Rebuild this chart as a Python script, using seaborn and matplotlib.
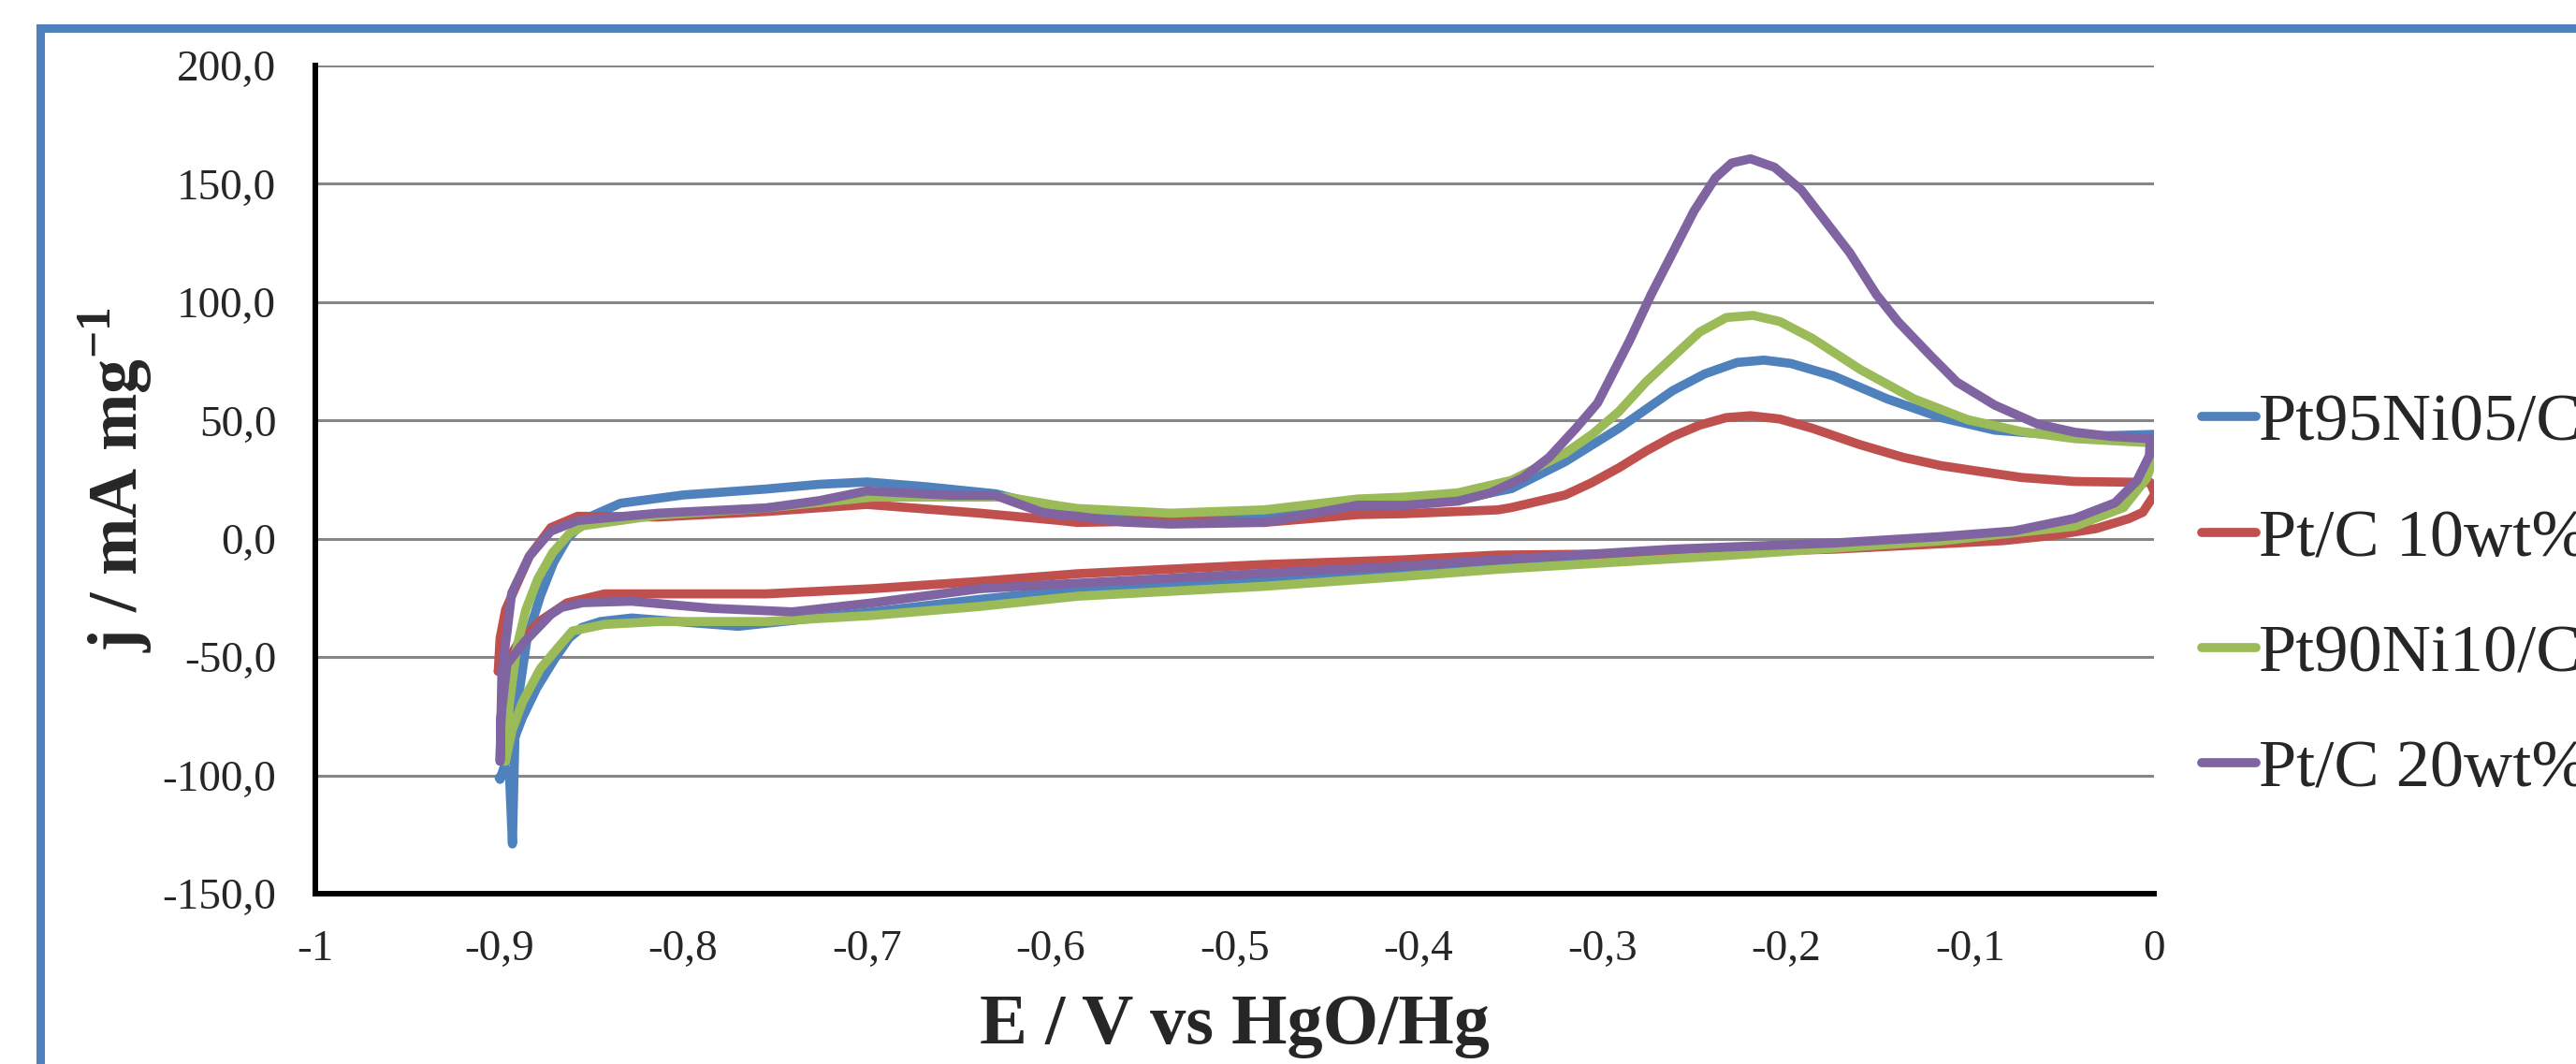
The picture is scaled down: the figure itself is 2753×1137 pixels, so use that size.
import pandas as pd
import seaborn as sns
import matplotlib.pyplot as plt
from matplotlib.lines import Line2D
from matplotlib.patches import Rectangle

# cyclic voltammograms (anodic sweep, then back)
blue_E = [-0.900, -0.8945, -0.8928, -0.8912, -0.8848, -0.8775, -0.8704, -0.863, -0.8515, -0.834,
          -0.800, -0.755, -0.726, -0.700, -0.668, -0.630, -0.604, -0.586, -0.535, -0.484,
          -0.433, -0.408, -0.379, -0.3494, -0.3202, -0.291, -0.2618, -0.2443, -0.2268, -0.2122,
          -0.1976, -0.1743, -0.1451, -0.1159, -0.0867, -0.043, 0.0,
          -0.0025, -0.009, -0.021, -0.043, -0.076, -0.116, -0.174, -0.262, -0.357, -0.408,
          -0.484, -0.586, -0.6385, -0.697, -0.770, -0.828, -0.845, -0.855, -0.862, -0.870,
          -0.8795, -0.8873, -0.8955, -0.8995]
blue_j = [-101, -98, -129, -76, -42, -24, -10, 0, 9, 15,
          18.5, 21, 23, 24, 22, 19, 14, 11.5, 8.9, 9.5,
          13.5, 14.5, 16.5, 21.2, 32.6, 46.7, 62.6, 69.7, 74.5, 75.5,
          74.1, 68.8, 59.1, 51.2, 45.9, 43.2, 44.1,
          35, 24.5, 15, 8.4, 3, 0.5, -2.2, -5, -10.9, -13.3,
          -17.5, -21.4, -25.6, -30.9, -37, -33.5, -35, -37.5, -42, -51,
          -63, -75.5, -92, -101.7]

red_E = [-0.9005, -0.8995, -0.8965, -0.8923, -0.8836, -0.8719, -0.8573, -0.8135, -0.755, -0.700,
         -0.6385, -0.595, -0.5857, -0.535, -0.484, -0.433, -0.4077, -0.357, -0.3494, -0.3202,
         -0.3056, -0.291, -0.2764, -0.2618, -0.2472, -0.2326, -0.2195, -0.2035, -0.1859, -0.1597,
         -0.1364, -0.1159, -0.0926, -0.0722, -0.043, -0.0021,
         0.0005, -0.0061, -0.0137, -0.0315, -0.056, -0.082, -0.174, -0.262, -0.357, -0.408,
         -0.484, -0.5857, -0.6385, -0.697, -0.755, -0.8135, -0.8427, -0.8631, -0.8777, -0.8894,
         -0.8967, -0.9005]
red_j = [-56, -42, -30, -22.6, -7.4, 4.7, 9.5, 9.2, 11.5, 14.5,
         10.8, 7.7, 6.9, 7.6, 6.9, 10.2, 10.6, 12.2, 13.2, 18.5,
         23.8, 30.0, 37.0, 43.2, 48.0, 51.2, 52.0, 50.6, 46.7, 39.7,
         34.4, 30.9, 28.2, 25.9, 24.2, 23.8,
         19, 11.2, 8.5, 4.3, 1.3, -0.8, -4.4, -6.2, -6.9, -8.9,
         -10.9, -14.8, -18.0, -21.1, -23.3, -23.3, -23.3, -27.1, -34.7, -43.8,
         -52.9, -56]

green_E = [-0.8966, -0.8945, -0.8907, -0.8855, -0.879, -0.871, -0.862, -0.8544, -0.8135, -0.755,
           -0.726, -0.697, -0.624, -0.5947, -0.5857, -0.535, -0.484, -0.433, -0.4077, -0.3786,
           -0.3494, -0.3202, -0.3056, -0.291, -0.2764, -0.2618, -0.2472, -0.2326, -0.2181, -0.2035,
           -0.1859, -0.1597, -0.1305, -0.1013, -0.0722, -0.043, -0.0021,
           -0.001, -0.004, -0.0166, -0.043, -0.1159, -0.2328, -0.357, -0.408, -0.484, -0.5857,
           -0.6385, -0.697, -0.7552, -0.8135, -0.8427, -0.8602, -0.868, -0.8777, -0.8873, -0.893,
           -0.8966]
green_j = [-94, -70, -47, -30, -17, -6, 2, 5.5, 10.0, 13.0,
           15.3, 17.6, 17.6, 13.8, 12.8, 10.8, 12.2, 16.8, 17.6, 19.4,
           24.7, 36.2, 44.1, 53.8, 66.2, 76.8, 87.3, 93.5, 94.4, 91.8,
           84.7, 71.5, 59.1, 50.3, 45.3, 42.3, 40.6,
           32, 25.6, 13.2, 5.3, -0.9, -7.1, -12.9, -15.9, -20.1, -24.3,
           -28.6, -32.4, -35.0, -35.0, -36.2, -39, -46, -55, -69, -81,
           -94]

purple_E = [-0.8995, -0.899, -0.8985, -0.8955, -0.8932, -0.8836, -0.8719, -0.8573, -0.8135, -0.755,
            -0.726, -0.700, -0.653, -0.630, -0.6035, -0.5857, -0.560, -0.535, -0.484, -0.433,
            -0.4077, -0.3786, -0.361, -0.3435, -0.329, -0.3144, -0.3027, -0.2968, -0.2852, -0.2735,
            -0.2618, -0.2502, -0.2385, -0.2297, -0.2195, -0.2064, -0.1918, -0.183, -0.1655, -0.151,
            -0.1393, -0.1218, -0.1072, -0.0867, -0.0634, -0.043, -0.0226, -0.0021,
            -0.0025, -0.0093, -0.0212, -0.0432, -0.0762, -0.116, -0.174, -0.262, -0.357, -0.408,
            -0.484, -0.5857, -0.6385, -0.697, -0.7406, -0.7844, -0.8281, -0.8544, -0.866, -0.8719,
            -0.8865, -0.8958, -0.899, -0.8995]
purple_j = [-94, -75, -56, -38, -23, -7.4, 3.2, 7.7, 10.8, 13.0,
            16.1, 20.2, 18.3, 18.3, 10.8, 9.5, 7.0, 6.2, 6.9, 14.2,
            14.1, 15.9, 19.4, 25.6, 34.4, 46.7, 57.3, 66.2, 83.8, 103.2,
            120.9, 138.5, 152.6, 158.8, 160.6, 157.0, 147.4, 138.5, 120.9, 103.2,
            91.8, 77.6, 66.2, 56.5, 48.5, 45.0, 43.2, 42.3,
            35.1, 24.5, 15.2, 8.6, 3.3, 0.9, -1.8, -4.4, -8.9, -11.5,
            -14.6, -18.8, -21.1, -27.1, -30.9, -29.4, -26.4, -27, -29, -32,
            -43.8, -53, -75, -94]

series_names = ['Pt95Ni05/C', 'Pt/C 10wt%', 'Pt90Ni10/C', 'Pt/C 20wt%']
series_colors = ['#4F81BD', '#C0504D', '#9BBB59', '#8064A2']
series_E = [blue_E, red_E, green_E, purple_E]
series_j = [blue_j, red_j, green_j, purple_j]

x_ticks = [-1, -0.9, -0.8, -0.7, -0.6, -0.5, -0.4, -0.3, -0.2, -0.1, 0]
y_ticks = [-150, -100, -50, 0, 50, 100, 150, 200]

frames = []
for name, E, j in zip(series_names, series_E, series_j):
    frames.append(pd.DataFrame({'E': E, 'j': j, 'catalyst': name}))
df = pd.concat(frames, ignore_index=True)

sns.set_style('white')
plt.rcParams['font.family'] = ['Liberation Serif', 'DejaVu Serif']
plt.rcParams['mathtext.fontset'] = 'custom'
plt.rcParams['mathtext.rm'] = 'Liberation Serif'
plt.rcParams['mathtext.bf'] = 'Liberation Serif:bold'

fig = plt.figure(figsize=(27.53, 11.37), dpi=100)
ax = fig.add_axes([0.1224, 0.1601, 0.7138, 0.7783])

palette = dict(zip(series_names, series_colors))
sns.lineplot(data=df, x='E', y='j', hue='catalyst', hue_order=series_names, palette=palette,
             sort=False, estimator=None, lw=7, legend=False, ax=ax,
             solid_capstyle='round', solid_joinstyle='round')

ax.set_xlim(-1, 0)
ax.set_ylim(-150, 200)
ax.set_xticks(x_ticks)
ax.set_xticklabels([('%g' % v).replace('.', ',') for v in x_ticks])
ax.set_yticks(y_ticks)
ax.set_yticklabels([('%.1f' % v).replace('.', ',') for v in y_ticks])
ax.tick_params(axis='both', length=0, labelsize=34)
ax.tick_params(axis='y', pad=30)
ax.tick_params(axis='x', pad=28)
ax.yaxis.grid(True, color='#868686', lw=2.2)
ax.set_axisbelow(True)
for side in ['top', 'right']:
    ax.spines[side].set_visible(False)
for side in ['left', 'bottom']:
    ax.spines[side].set_color('black')
    ax.spines[side].set_linewidth(4.3)

ax.set_xlabel('E / V vs HgO/Hg', fontsize=55, fontweight='bold', va='top')
ax.xaxis.set_label_coords(0.5, -0.121)
ax.set_ylabel(r'j / mA mg$^{\mathbf{-1}}$', fontsize=53, fontweight='bold')
ax.yaxis.set_label_coords(-0.087, 0.5)

handles = [Line2D([0], [0], color=c, lw=7, solid_capstyle='round') for c in series_colors]
fig.legend(handles, series_names, loc='center left', bbox_to_anchor=(0.8547, 0.4389),
           frameon=False, fontsize=52, handlelength=0.8, handletextpad=0.05,
           labelspacing=0.8, borderaxespad=0, borderpad=0)

# blue chart-area frame, cut off at the right and bottom like the screenshot
fig.patches.append(Rectangle((0.0158, -0.1), 1.2, 1.074, transform=fig.transFigure,
                             fill=False, edgecolor='#4F81BD', lw=6.5, clip_on=False))

fig.savefig('out.png', dpi=100)
